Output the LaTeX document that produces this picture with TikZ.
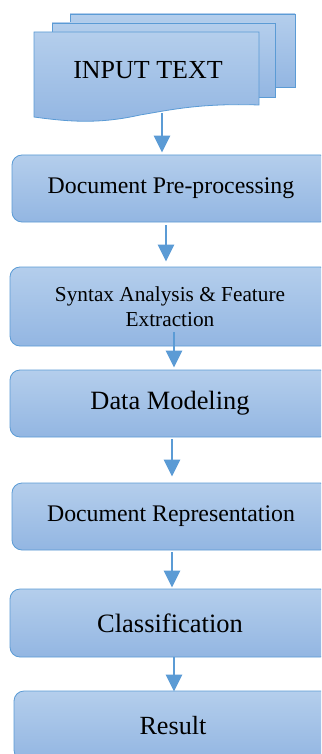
\documentclass[tikz,border=0pt]{standalone}
\usepackage{fontspec}
\setmainfont{Liberation Serif}
\usetikzlibrary{arrows.meta}
\definecolor{bfillA}{HTML}{B4CEEC}
\definecolor{bfillB}{HTML}{93B6E2}
\definecolor{bline}{HTML}{5B9BD5}
\begin{document}
\begin{tikzpicture}[x=1pt,y=-1pt,
  flowbox/.style={rectangle, rounded corners=10pt, draw=bline, line width=0.8pt,
    top color=bfillA, bottom color=bfillB, inner sep=0pt, align=center},
  docpage/.style={draw=bline, line width=0.8pt, top color=bfillA, bottom color=bfillB},
  flowarrow/.style={draw=bline, line width=2.5pt, -{Triangle[length=17pt,width=16pt]}}]
\useasboundingbox (0,0) rectangle (321,754);
\clip (0,0) rectangle (321,754);
\fill[white] (0,0) rectangle (321,754);
% multi-document
\draw[docpage] (70,14) rectangle (295,87);
\draw[docpage] (52,23) rectangle (275,97);
\draw[docpage] (34,32) -- (259,32) -- (259,105)
   .. controls (200,103) and (170,110) .. (140,115)
   .. controls (100,124) and (70,122) .. (34,117) -- cycle;
\node[inner sep=0pt, font=\fontsize{26}{30}\selectfont] (intext) at (148,70) {INPUT TEXT};
\coordinate (wb) at (162,113);
% boxes
\node[flowbox, minimum width=318pt, minimum height=67pt, font=\fontsize{23.8}{28}\selectfont]
  (b1) at (171,188.5) {Document Pre-processing};
\node[flowbox, minimum width=320pt, minimum height=79pt, font=\fontsize{21.3}{25}\selectfont]
  (b2) at (170,306.5) {Syntax Analysis \& Feature\\Extraction};
\node[flowbox, minimum width=320pt, minimum height=67pt, font=\fontsize{26.4}{30}\selectfont]
  (b3) at (170,403.5) {Data Modeling};
\node[flowbox, minimum width=318pt, minimum height=67pt, font=\fontsize{23.8}{28}\selectfont]
  (b4) at (171,516.5) {Document Representation};
\node[flowbox, minimum width=320pt, minimum height=68pt, font=\fontsize{26.5}{30}\selectfont]
  (b5) at (170,623) {Classification};
\node[flowbox, minimum width=318pt, minimum height=69pt, font=\fontsize{26.2}{30}\selectfont]
  (b6) at (173,725.5) {Result};
% arrows
\draw[flowarrow] (wb) -- ([xshift=-9pt,yshift=2pt]b1.north);
\draw[flowarrow] ([xshift=-5pt,yshift=-3pt]b1.south) -- ([xshift=-4pt,yshift=5pt]b2.north);
\draw[flowarrow] ([xshift=4pt,yshift=14pt]b2.south) -- ([xshift=4pt,yshift=2pt]b3.north);
\draw[flowarrow] ([xshift=2pt,yshift=-2pt]b3.south) -- ([xshift=1pt,yshift=6pt]b4.north);
\draw[flowarrow] ([xshift=1pt,yshift=-2pt]b4.south) -- ([xshift=2pt,yshift=1pt]b5.north);
\draw[flowarrow] ([xshift=4pt]b5.south) -- ([xshift=1pt,yshift=-1pt]b6.north);
\end{tikzpicture}
\end{document}
